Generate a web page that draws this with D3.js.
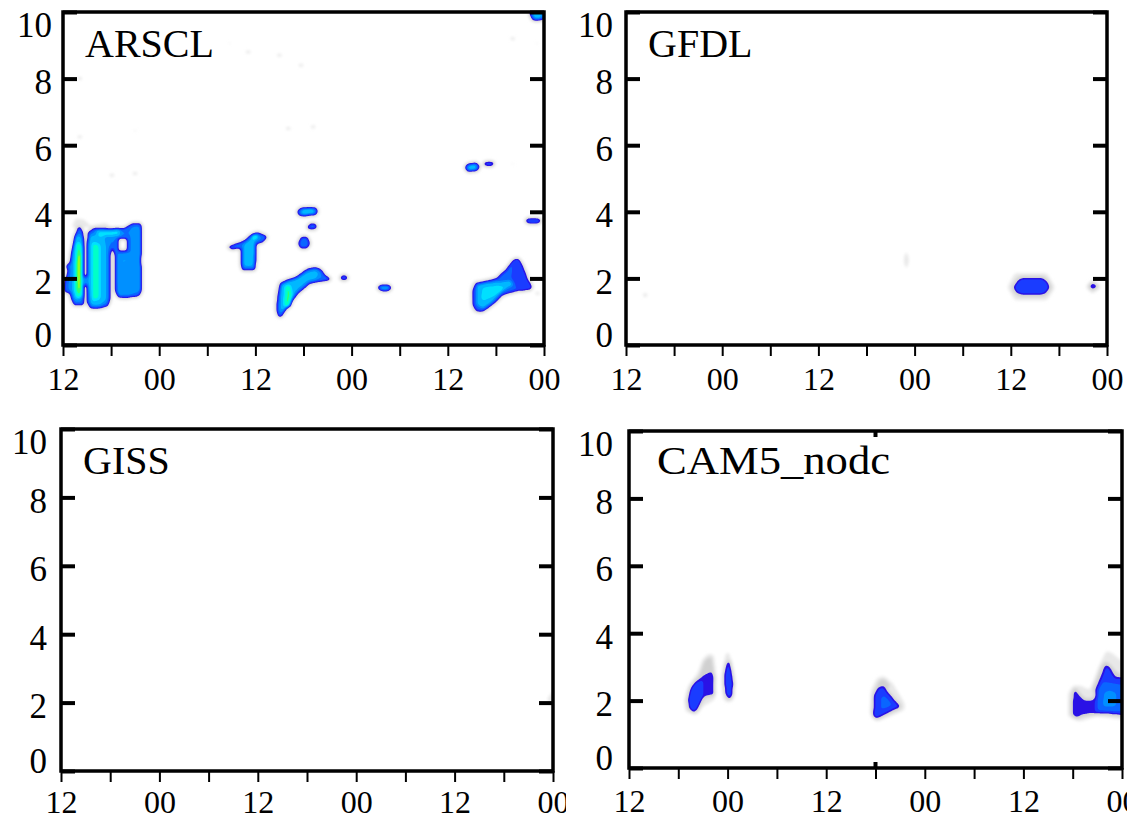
<!DOCTYPE html>
<html>
<head>
<meta charset="utf-8">
<title>Cloud occurrence time-height sections</title>
<script src="https://cdn.jsdelivr.net/npm/d3@7/dist/d3.min.js"></script>
<style>
  html, body { margin: 0; background: #fff; }
  svg { display: block; font-family: "Liberation Serif", "Times New Roman", "DejaVu Serif", serif; }
</style>
</head>
<body>
<svg id="chart" width="1127" height="821"></svg>
<script>
// ---- axes -------------------------------------------------------------
// time: hours after 12 LT of the first day, 60 h shown
const hourDomain = [0, 60];
const hourTicks = [0, 6, 12, 18, 24, 30, 36, 42, 48, 54, 60];
const hourLabels = ["12", "00", "12", "00", "12", "00"];   // one per 12 h
const heightDomain = [0, 10];                               // km
const heightTicks = [0, 2, 4, 6, 8, 10];
const panelNames = ["ARSCL", "GFDL", "GISS", "CAM5_nodc"];

// ---- contour levels (cloud fraction) and fills -------------------------
const levels = [0.04, 0.1, 0.18, 0.26, 0.34, 0.42, 0.5, 0.58, 0.66, 0.74, 0.82, 0.9];
const levelColors = ["#e8e8e8", "#d0d0d0", "#2a12e6", "#1a3cff", "#0a66ff", "#0090ff",
                     "#00b8ff", "#00e0ff", "#00ffc8", "#30ff70", "#90ff20", "#e8ff00"];

// ---- cloud regions: [fraction, outline as [hour, km] points] -----------
// later regions overwrite earlier ones
const arsclCloud = [
  // first afternoon: towers under a common cap
  [0.05, [[0.8, 3.5], [1.5, 3.85], [2.8, 3.8], [3.5, 3.62], [5.5, 3.72], [6.2, 3.5]]],
  [0.42, [[2.0, 3.57], [2.49, 3.39], [2.65, 3.0], [2.65, 1.35], [2.55, 1.2], [1.37, 1.2], [1.0, 1.41],
          [0.87, 1.56], [0.25, 1.59], [0.25, 1.89], [0.62, 2.25], [0.37, 2.37], [0.87, 2.49],
          [1.12, 2.85], [1.5, 3.3]]],
  [0.42, [[3.12, 3.39], [3.99, 3.51], [5.86, 3.48], [7.73, 3.51], [8.73, 3.66], [9.73, 3.66],
          [9.85, 3.3], [9.73, 2.55], [9.85, 1.65], [9.48, 1.47], [8.48, 1.44], [7.73, 1.41],
          [6.86, 1.44], [6.48, 1.65], [6.48, 2.7], [6.23, 2.91], [5.99, 2.85], [5.86, 2.55],
          [5.86, 1.35], [5.61, 1.17], [4.61, 1.11], [3.37, 1.11], [3.05, 1.26], [3.05, 3.15]]],
  [0.0,  [[6.86, 2.82], [7.98, 2.82], [7.98, 3.2], [6.86, 3.2]]],
  [0.45, [[2.6, 1.8], [3.2, 1.8], [3.2, 2.05], [2.6, 2.05]]],
  [0.56, [[1.62, 3.27], [2.24, 3.27], [2.55, 2.85], [2.55, 1.41], [1.5, 1.35], [1.12, 1.65], [1.25, 2.85]]],
  [0.75, [[1.75, 3.06], [2.24, 3.06], [2.37, 1.5], [1.75, 1.41], [1.5, 1.65]]],
  [0.93, [[1.93, 2.85], [2.18, 2.7], [2.18, 1.71], [1.87, 1.59], [1.81, 2.55]]],
  [0.56, [[3.37, 3.27], [5.11, 3.33], [5.36, 3.0], [5.36, 1.35], [4.61, 1.2], [3.49, 1.2], [3.24, 1.65], [3.24, 3.0]]],
  [0.72, [[3.74, 3.06], [4.49, 3.0], [4.49, 1.41], [3.74, 1.35]]],
  [0.6,  [[4.24, 3.45], [7.11, 3.48], [7.11, 3.27], [4.24, 3.24]]],
  [0.5,  [[6.86, 2.7], [8.48, 2.73], [8.6, 1.56], [6.98, 1.53]]],
  [0.5,  [[8.85, 3.51], [9.6, 3.51], [9.6, 1.65], [8.85, 1.65]]],
  // second day, T-shaped cell
  [0.42, [[20.45, 2.94], [21.45, 3.03], [22.19, 3.09], [22.69, 3.15], [23.57, 3.33], [24.31, 3.39],
          [24.81, 3.33], [25.56, 3.24], [24.94, 3.09], [24.06, 3.03], [24.06, 2.49], [23.94, 2.25],
          [22.32, 2.25], [22.19, 2.49], [22.19, 2.91], [21.07, 2.88]]],
  [0.58, [[22.57, 3.0], [23.69, 3.21], [24.31, 3.27], [23.82, 3.09], [23.69, 2.37], [22.57, 2.37]]],
  [0.78, [[23.57, 3.27], [24.19, 3.3], [24.31, 3.21], [23.69, 3.18]]],
  // second afternoon
  [0.42, [[29.18, 3.99], [29.55, 4.11], [30.8, 4.14], [31.67, 4.11], [31.8, 3.99], [31.42, 3.9], [29.55, 3.87]]],
  [0.6,  [[29.8, 4.06], [31.3, 4.08], [31.3, 3.95], [29.8, 3.93]]],
  [0.38, [[30.4, 3.55], [30.8, 3.64], [31.5, 3.64], [31.7, 3.55], [31.4, 3.47], [30.7, 3.47]]],
  [0.38, [[29.3, 3.05], [29.7, 3.24], [30.5, 3.24], [30.85, 3.05], [30.5, 2.91], [29.6, 2.91]]],
  [0.05, [[26.3, 0.9], [26.2, 1.6], [26.9, 2.0], [27.4, 1.9], [26.9, 1.0]]],
  [0.42, [[26.85, 0.85], [26.65, 1.1], [26.85, 1.5], [27.14, 1.85], [27.89, 1.95], [29.14, 2.05],
          [29.96, 2.2], [30.59, 2.3], [31.63, 2.33], [32.26, 2.25], [32.67, 2.1], [33.5, 1.97],
          [32.88, 1.93], [31.83, 1.9], [30.8, 1.85], [29.34, 1.55], [28.52, 1.3], [27.89, 1.1], [27.27, 0.85]]],
  [0.54, [[27.1, 1.0], [27.1, 1.8], [28.0, 1.9], [29.2, 1.98], [30.0, 2.12], [30.6, 2.2], [31.5, 2.25],
          [32.0, 2.15], [31.6, 1.98], [30.6, 1.93], [29.2, 1.65], [28.4, 1.4], [27.7, 1.05]]],
  [0.75, [[27.6, 1.15], [27.7, 1.75], [28.3, 1.8], [28.6, 1.5], [28.3, 1.15]]],
  [0.36, [[34.5, 2.02], [34.8, 2.1], [35.3, 2.1], [35.6, 2.02], [35.3, 1.95], [34.8, 1.95]]],
  [0.5,  [[39.2, 1.72], [39.7, 1.81], [40.6, 1.81], [41.0, 1.72], [40.6, 1.63], [39.7, 1.63]]],
  // third afternoon
  [0.05, [[50.9, 1.0], [50.8, 1.8], [51.6, 2.0], [51.4, 0.9]]],
  [0.36, [[51.62, 0.99], [51.12, 1.2], [51.12, 1.65], [51.5, 1.86], [52.0, 1.89], [53.24, 1.95],
          [54.11, 2.01], [55.36, 2.31], [56.11, 2.55], [56.73, 2.61], [57.23, 2.46], [57.73, 2.19],
          [57.98, 2.01], [58.6, 1.74], [58.23, 1.65], [56.73, 1.62], [54.86, 1.5], [53.87, 1.26], [52.37, 0.99]]],
  [0.3,  [[56.2, 2.5], [57.2, 2.45], [58.5, 1.72], [56.8, 1.65], [56.0, 2.0]]],
  [0.55, [[51.6, 1.2], [51.6, 1.8], [53.0, 1.88], [54.5, 1.9], [55.8, 1.95], [56.2, 1.8], [54.8, 1.62],
          [53.6, 1.3], [52.4, 1.1]]],
  [0.66, [[52.3, 1.35], [52.4, 1.7], [54.2, 1.75], [55.2, 1.72], [53.8, 1.5]]],
  [0.38, [[57.6, 3.73], [58.0, 3.81], [59.3, 3.81], [59.7, 3.73], [59.3, 3.66], [58.0, 3.66]]],
  [0.42, [[58.2, 9.95], [58.4, 10.2], [60.2, 10.2], [60.2, 9.82], [59.5, 9.75], [58.6, 9.76]]],
  [0.6,  [[58.7, 9.97], [59.6, 9.97], [59.6, 9.83], [58.8, 9.83]]],
  [0.42, [[50.1, 5.33], [50.5, 5.45], [51.6, 5.47], [52.0, 5.35], [51.6, 5.22], [50.5, 5.21]]],
  [0.6,  [[50.5, 5.38], [51.5, 5.4], [51.5, 5.27], [50.5, 5.27]]],
  [0.36, [[52.4, 5.44], [52.7, 5.51], [53.6, 5.51], [53.9, 5.45], [53.6, 5.38], [52.7, 5.38]]]
];
// thin, barely detected layers: [hour, km]
const arsclTraces = [
  [20.8, 9.07], [23.1, 8.8], [27.0, 8.7], [29.7, 8.4], [2.1, 6.25], [9.0, 6.43], [6.1, 5.1],
  [9.0, 5.15], [28.1, 6.5], [31.2, 6.55], [56.1, 5.43], [56.1, 9.2], [59.1, 9.07], [4.2, 8.77],
  [2.1, 8.0], [59.2, 1.55]
];

const gfdlCloud = [
  [0.09, [[47.6, 1.73], [48.5, 2.15], [52.5, 2.15], [53.5, 1.73], [52.5, 1.35], [48.5, 1.35]]],
  [0.32, [[48.35, 1.73], [48.97, 1.95], [49.6, 2.0], [51.89, 2.0], [52.51, 1.9], [52.8, 1.73],
          [52.3, 1.55], [51.67, 1.52], [49.39, 1.52], [48.76, 1.57]]],
  [0.1,  [[57.3, 1.75], [58.2, 1.95], [59.3, 1.75], [58.2, 1.55]]],
  [0.34, [[57.8, 1.76], [58.2, 1.83], [58.8, 1.78], [58.3, 1.7]]],
  [0.08, [[34.97, 2.92], [35.3, 2.55], [34.97, 2.18], [34.65, 2.55]]],
  [0.07, [[1.9, 1.5], [2.4, 1.62], [2.9, 1.5], [2.4, 1.38]]]
];

const gissCloud = [
  [0.07, [[59.2, 2.1], [60.3, 2.45], [60.3, 1.75]]]
];

const cam5Cloud = [
  // first evening
  [0.07, [[6.81, 1.67], [6.69, 2.02], [7.21, 2.46], [8.43, 2.86], [9.04, 3.25], [9.65, 3.4], [10.34, 3.35],
          [10.58, 2.71], [10.46, 2.02], [9.04, 1.82], [8.24, 1.57]]],
  [0.12, [[8.43, 2.71], [9.04, 3.2], [10.06, 3.35], [10.46, 2.91], [9.85, 2.81]]],
  [0.22, [[8.03, 2.56], [9.04, 2.76], [10.06, 2.88], [10.34, 2.81], [10.46, 2.17], [9.04, 2.1], [8.24, 2.22]]],
  [0.32, [[7.21, 2.02], [7.5, 2.37], [8.03, 2.52], [9.04, 2.61], [9.04, 2.12], [8.24, 1.72], [7.82, 1.65], [7.34, 1.77]]],
  [0.07, [[11.4, 2.02], [11.28, 2.71], [11.68, 3.35], [12.08, 3.5], [12.49, 3.2], [12.9, 2.61], [12.77, 2.02], [12.08, 1.92]]],
  [0.3,  [[11.68, 2.22], [11.6, 2.76], [11.89, 3.11], [12.17, 3.2], [12.49, 2.86], [12.69, 2.51], [12.57, 2.17], [12.2, 2.02]]],
  // second evening
  [0.07, [[29.32, 1.62], [29.4, 2.31], [30.13, 2.66], [30.94, 2.73], [32.15, 2.51], [33.58, 1.92],
          [33.58, 1.72], [31.75, 1.52], [30.13, 1.37]]],
  [0.12, [[29.72, 2.02], [30.33, 2.61], [31.14, 2.69], [31.96, 2.42], [30.94, 2.32]]],
  [0.3,  [[29.72, 1.52], [29.81, 2.17], [30.33, 2.37], [30.94, 2.43], [31.75, 2.17], [33.05, 1.82],
          [31.75, 1.67], [30.13, 1.47]]],
  [0.36, [[30.54, 1.72], [30.62, 2.12], [31.14, 2.17], [32.15, 1.87], [31.35, 1.77]]],
  // third evening
  [0.07, [[53.44, 1.52], [53.44, 2.22], [54.05, 2.46], [54.87, 2.46], [56.08, 2.31], [56.69, 2.66],
          [57.5, 3.2], [58.12, 3.5], [58.93, 3.4], [60.3, 3.1], [60.3, 1.42], [56.9, 1.52], [54.87, 1.37]]],
  [0.12, [[56.29, 2.31], [57.3, 3.01], [58.12, 3.2], [59.12, 2.91], [60.3, 2.72], [60.3, 2.42], [56.9, 2.22]]],
  [0.22, [[53.86, 1.57], [53.98, 2.22], [54.26, 2.37], [54.87, 2.17], [55.47, 2.02], [56.29, 2.02],
          [56.9, 2.12], [56.9, 1.62], [55.27, 1.57], [54.46, 1.47]]],
  [0.3,  [[56.69, 1.62], [56.81, 2.31], [57.5, 2.71], [58.03, 3.06], [58.52, 2.96], [59.12, 2.69],
          [60.3, 2.66], [60.3, 1.57], [58.33, 1.62]]],
  [0.38, [[56.97, 1.72], [57.09, 2.31], [57.7, 2.56], [58.93, 2.51], [60.3, 2.46], [60.3, 1.67], [58.33, 1.67]]],
  [0.46, [[57.7, 1.82], [57.79, 2.22], [58.52, 2.31], [59.33, 2.22], [59.33, 1.84]]]
];

// ---- layout ------------------------------------------------------------
const panels = [
  { name: panelNames[0], cloud: arsclCloud, traces: arsclTraces, box: { l: 63, t: 12, r: 544, b: 345 }, pad: 11, title: [22, 45], labelPad: 11 },
  { name: panelNames[1], cloud: gfdlCloud, box: { l: 626, t: 12, r: 1107, b: 345 }, pad: 13, title: [22, 45], labelPad: 11 },
  { name: panelNames[2], cloud: gissCloud, box: { l: 61, t: 429, r: 553, b: 771 }, pad: 14, title: [22, 45], labelPad: 8, clipRight: 566 },
  { name: panelNames[3], cloud: cam5Cloud, box: { l: 629, t: 431, r: 1122, b: 768 }, pad: 16, title: [28, 43], labelPad: 10, notch: 30, titleWidth: 233 }
];

const NX = 600, NZ = 400;
const DH = (hourDomain[1] - hourDomain[0]) / NX;
const DZ = (heightDomain[1] - heightDomain[0]) / NZ;

// rasterise the regions onto a regular time-height grid, then smooth lightly
function buildField(cloud, traces) {
  const values = new Float64Array(NX * NZ);
  const regions = cloud.slice();
  (traces || []).forEach(([h, z]) => {
    regions.unshift([0.08, [[h - 0.4, z - 0.04], [h + 0.4, z - 0.04], [h + 0.4, z + 0.04], [h - 0.4, z + 0.04]]]);
  });
  for (const [v, pts] of regions) {
    const hs = pts.map(p => p[0]), zs = pts.map(p => p[1]);
    const i0 = Math.max(0, Math.floor(d3.min(hs) / DH)), i1 = Math.min(NX - 1, Math.ceil(d3.max(hs) / DH));
    const j0 = Math.max(0, Math.floor(d3.min(zs) / DZ)), j1 = Math.min(NZ - 1, Math.ceil(d3.max(zs) / DZ));
    for (let j = j0; j <= j1; j++) {
      for (let i = i0; i <= i1; i++) {
        if (d3.polygonContains(pts, [(i + 0.5) * DH, (j + 0.5) * DZ])) values[j * NX + i] = v;
      }
    }
  }
  d3.blur2({ data: values, width: NX, height: NZ }, 1.3, 1.3);
  return values;
}

const svg = d3.select("#chart");
const defs = svg.append("defs");
const soft = defs.append("filter").attr("id", "soft")
  .attr("x", "-20%").attr("y", "-20%").attr("width", "140%").attr("height", "140%");
soft.append("feGaussianBlur").attr("stdDeviation", 1.4);

const fill = d3.scaleOrdinal(levels, levelColors);
const serif = '"Liberation Serif", "Times New Roman", "DejaVu Serif", serif';

panels.forEach((p, idx) => {
  const g = svg.append("g");
  const x = d3.scaleLinear().domain(hourDomain).range([p.box.l, p.box.r]);
  const y = d3.scaleLinear().domain(heightDomain).range([p.box.b, p.box.t]);

  const clipId = "plot-clip-" + idx;
  defs.append("clipPath").attr("id", clipId).append("rect")
    .attr("x", p.box.l).attr("y", p.box.t)
    .attr("width", p.box.r - p.box.l).attr("height", p.box.b - p.box.t);

  // filled contours
  const field = buildField(p.cloud, p.traces);
  const contours = d3.contours().size([NX, NZ]).thresholds(levels)(field);
  const proj = d3.geoTransform({
    point(px, py) { this.stream.point(x(hourDomain[0] + px * DH), y(heightDomain[0] + py * DZ)); }
  });
  const path = d3.geoPath(proj);
  const plot = g.append("g").attr("clip-path", `url(#${clipId})`);

  plot.append("g").attr("filter", "url(#soft)")
    .selectAll("path").data(contours.filter(c => c.value < 0.15)).join("path")
    .attr("d", path).attr("fill", c => fill(c.value));
  plot.append("g")
    .selectAll("path").data(contours.filter(c => c.value >= 0.15)).join("path")
    .attr("d", path).attr("fill", c => fill(c.value));

  // frame
  g.append("rect")
    .attr("x", p.box.l).attr("y", p.box.t)
    .attr("width", p.box.r - p.box.l).attr("height", p.box.b - p.box.t)
    .attr("fill", "none").attr("stroke", "#000").attr("stroke-width", 3.5);

  // left height axis with inward ticks
  const left = g.append("g").attr("transform", `translate(${p.box.l},0)`)
    .call(d3.axisLeft(y).tickValues(heightTicks).tickSize(-14).tickPadding(p.pad).tickFormat(d3.format("d")));
  left.select(".domain").remove();
  left.attr("font-family", serif).attr("font-size", 35);
  left.selectAll(".tick line").attr("stroke", "#000").attr("stroke-width", 4);
  left.selectAll(".tick text").attr("fill", "#000")
    .attr("dy", d => d === heightDomain[1] ? 24 : d === heightDomain[0] ? 1 : 15);

  // right side: ticks only
  const right = g.append("g").attr("transform", `translate(${p.box.r},0)`)
    .call(d3.axisRight(y).tickValues(heightTicks).tickSize(-14).tickFormat(""));
  right.select(".domain").remove();
  right.selectAll(".tick line").attr("stroke", "#000").attr("stroke-width", 4);

  // bottom time axis
  const bottomWrap = g.append("g");
  if (p.clipRight) {
    const cid = "axis-clip-" + idx;
    defs.append("clipPath").attr("id", cid).append("rect")
      .attr("x", 0).attr("y", p.box.b - 5).attr("width", p.clipRight).attr("height", 80);
    bottomWrap.attr("clip-path", `url(#${cid})`);
  }
  const bottom = bottomWrap.append("g").attr("transform", `translate(0,${p.box.b})`)
    .call(d3.axisBottom(x).tickValues(hourTicks).tickSize(11).tickPadding(p.labelPad)
      .tickFormat(d => d % 12 === 0 ? hourLabels[d / 12] : ""));
  bottom.select(".domain").remove();
  bottom.attr("font-family", serif).attr("font-size", 32);
  bottom.selectAll(".tick line").attr("stroke", "#000").attr("stroke-width", 2);
  bottom.selectAll(".tick text").attr("fill", "#000");

  // short inner marks at mid-period
  if (p.notch !== undefined) {
    g.append("g").selectAll("line").data([[p.box.t, 1], [p.box.b, -1]]).join("line")
      .attr("x1", x(p.notch)).attr("x2", x(p.notch))
      .attr("y1", d => d[0]).attr("y2", d => d[0] + d[1] * 6)
      .attr("stroke", "#000").attr("stroke-width", 4);
  }

  // panel title
  const t = g.append("text")
    .attr("x", p.box.l + p.title[0]).attr("y", p.box.t + p.title[1])
    .attr("font-size", 40).attr("fill", "#000")
    .text(p.name);
  if (p.titleWidth) t.attr("textLength", p.titleWidth).attr("lengthAdjust", "spacingAndGlyphs");
});
</script>
</body>
</html>
